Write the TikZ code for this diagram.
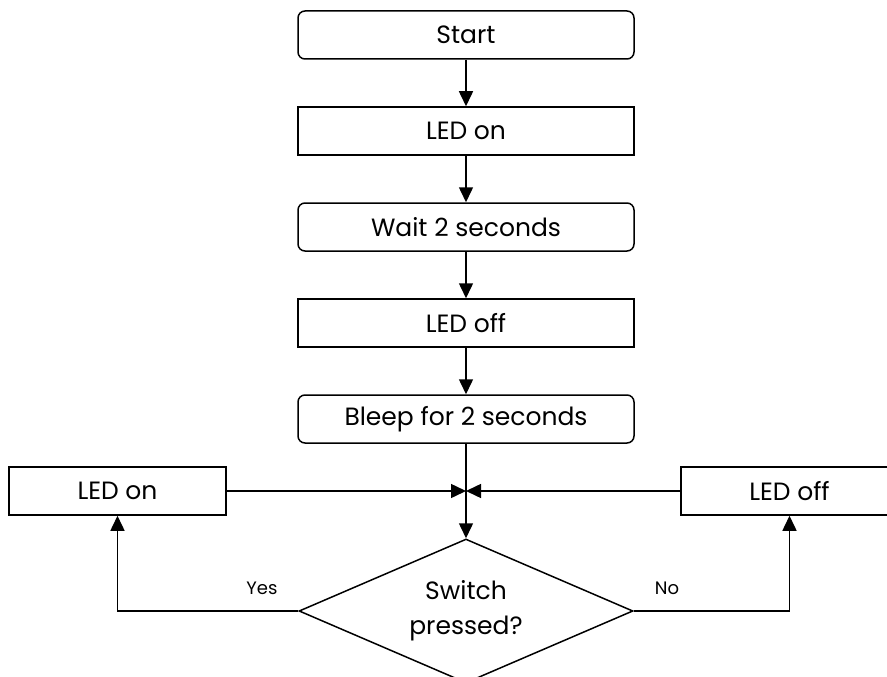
\documentclass[tikz,border=0pt]{standalone}
\usepackage{fontspec}
\setmainfont{Poppins}
\usetikzlibrary{shapes.geometric,arrows.meta}
\tikzstyle{block}=[draw, line width=1.5pt, minimum width=336pt, minimum height=48pt, inner sep=0pt, font=\fontsize{25}{28}\selectfont]
\tikzstyle{roundblock}=[block, rounded corners=7pt]
\tikzstyle{sideblock}=[block, minimum width=217pt]
\tikzstyle{decision}=[diamond, draw, line width=1.5pt, aspect=2.3, inner sep=0pt, minimum width=334pt, minimum height=144pt, align=center, font=\fontsize{25}{35}\selectfont]
\tikzstyle{answer}=[font=\fontsize{18}{20}\selectfont]
\tikzstyle{flow}=[-{Triangle[length=15pt,width=14pt]}, line width=1.5pt]

\begin{document}
\begin{tikzpicture}[x=1pt,y=-1pt]
  \clip (0,0) rectangle (887,677);
  \useasboundingbox (0,0) rectangle (887,677);
  \draw (466,35) node[roundblock] (start) {Start};
  \draw (466,131) node[block] (ledon) {LED on};
  \draw (466,227) node[roundblock] (wait) {Wait 2 seconds};
  \draw (466,323) node[block] (ledoff) {LED off};
  \draw (466,419) node[roundblock] (bleep) {Bleep for 2 seconds};

  \draw (117.5,491) node[sideblock] (yesled) {LED on};
  \draw (789.5,491) node[sideblock] (noled) {LED off};
  \draw (466,611) node[decision] (switch) {Switch\\pressed?};
  \coordinate (join) at (466,491);

  \draw[flow] (start) -- (ledon);
  \draw[flow] (ledon) -- (wait);
  \draw[flow] (wait) -- (ledoff);
  \draw[flow] (ledoff) -- (bleep);
  \draw[line width=1.5pt] (bleep) -- (join);
  \draw[flow] (join) -- (switch);
  \draw[flow] (yesled) -- (join);
  \draw[flow] (noled) -- (join);

  %% Branches
  \draw[flow] (switch.west) -| (yesled.south);
  \draw[flow] (switch.east) -| (noled.south);
  \draw (262,588) node[answer] (yes) {Yes};
  \draw (667,588) node[answer] (no) {No};
\end{tikzpicture}
\end{document}
